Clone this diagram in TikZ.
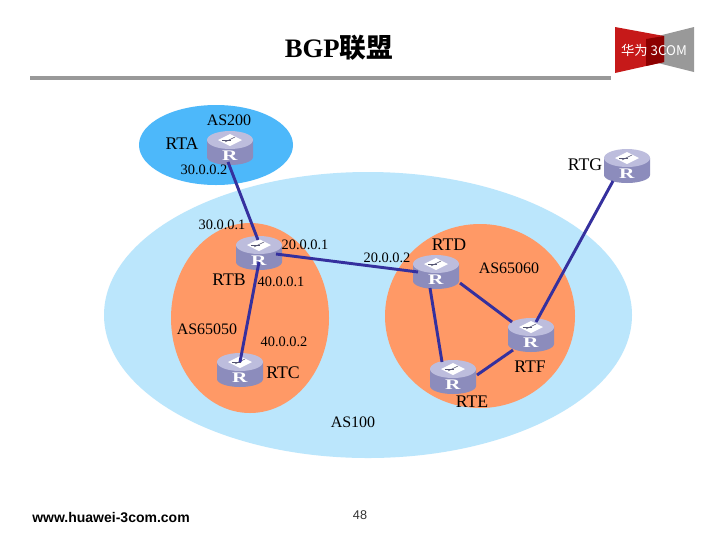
\documentclass[tikz,border=0pt]{standalone}
\usepackage{fontspec}
\setmainfont{Liberation Serif}
\setsansfont{Liberation Sans}
\newfontfamily\cjkfont{Noto Sans CJK SC}
\usetikzlibrary{calc}
\definecolor{linkblue}{HTML}{35309E}
\definecolor{routertop}{HTML}{BDBDDD}
\definecolor{routerside}{HTML}{8C8CBC}
\definecolor{skyarea}{HTML}{BBE6FC}
\definecolor{bluearea}{HTML}{4DB8FA}
\definecolor{orangearea}{HTML}{FF9966}
\newcommand{\routerR}{\raisebox{-9.5pt}[0pt][0pt]{\scalebox{1.45}[1]{\textbf{R}}}}

\begin{document}
\begin{tikzpicture}[
                x=0.75pt, y=-0.75pt,
                lbl/.style={inner sep=0pt, font=\fontsize{12}{14}\selectfont},
                rtname/.style={inner sep=0pt, font=\fontsize{13.3}{15}\selectfont},
                ipname/.style={inner sep=0pt, font=\fontsize{10.8}{13}\selectfont},
                router/.style={rectangle, inner sep=0pt, minimum width=34.5pt, minimum height=25.5pt,
                                text=white, font=\fontsize{11}{13}\selectfont},
                routericon/.pic={
                    \fill[routerside] (-23,-8) -- (-23,9) arc[start angle=180, end angle=0, x radius=23, y radius=8] -- (23,-8) -- cycle;
                    \fill[routertop] (0,-8) ellipse[x radius=23, y radius=9];
                    \fill[white] (-12,-8) -- (0,-14) -- (12,-8) -- (0,-2) -- cycle;
                    \draw[routerside!60!black, thin] (-5,-6) -- (5,-11);
                    \draw[routerside!60!black, thin] (-8,-8) -- (1,-8);
                },
                link/.style={line width=2.2pt, draw=linkblue}
            ]
                \useasboundingbox (0,0) rectangle (720,540);
                \fill[white] (0,0) rectangle (720,540);

                \fill[skyarea] (368,315) ellipse[x radius=264, y radius=143];
                \fill[bluearea] (216,145) ellipse[x radius=77, y radius=40];
                \fill[orangearea] (250,318) ellipse[x radius=79, y radius=95];
                \fill[orangearea] (480,316) ellipse[x radius=95, y radius=92];

                \fill[black!40] (30,76) rectangle (611,80);
                \node[inner sep=0pt, font=\fontsize{20}{24}\selectfont\bfseries] (title) at (339,48) {BGP{\cjkfont 联盟}};

                \fill[black!40] (694,27) -- (694,72) -- (646,60) -- (646,39) -- cycle;
                \fill[red!75!black!90!white] (615,27) -- (664,36) -- (664,62) -- (615,73) -- cycle;
                \fill[red!55!black] (646,39) -- (664,36) -- (664,62) -- (646,66) -- cycle;
                \node[inner sep=0pt, text=white, font=\cjkfont\fontsize{10}{12}\selectfont] (logo) at (654,50) {华为 3COM};

                \foreach \r/\x/\y in {rta/230/148, rtb/259/253, rtc/240/370, rtd/436/272, rte/453/377, rtf/531/335, rtg/627/166} {
                    \pic at (\x,\y) {routericon};
                    \node[router] (\r) at (\x,\y) {\routerR};
                }

                \draw[link] ($(rta)+(-2,14)$) -- ($(rtb)+(-1,-13)$);
                \draw[link] ($(rtb)+(17,1)$)  -- ($(rtd)+(-18,0)$);
                \draw[link] ($(rtb)+(0,9)$)   -- ($(rtc)+(0,-8)$);
                \draw[link] ($(rtd)+(-6,16)$) -- ($(rte)+(-11,-15)$);
                \draw[link] ($(rtd)+(24,11)$) -- ($(rtf)+(-19,-13)$);
                \draw[link] ($(rte)+(24,-2)$) -- ($(rtf)+(-18,15)$);
                \draw[link] ($(rtf)+(5,-13)$) -- ($(rtg)+(-14,15)$);

                \node[lbl] (as200) at (229,120) {AS200};
                \node[rtname] (lrta)  at (182,144) {RTA};
                \node[ipname] (ip1)   at (204,170) {30.0.0.2};
                \node[rtname] (lrtg)  at (585,165) {RTG};
                \node[ipname] (ip2)   at (222,225) {30.0.0.1};
                \node[ipname] (ip3)   at (305,245) {20.0.0.1};
                \node[ipname] (ip4)   at (387,258) {20.0.0.2};
                \node[rtname] (lrtd)  at (449,245) {RTD};
                \node[lbl] (as2)   at (509,268) {AS65060};
                \node[rtname] (lrtb)  at (229,280) {RTB};
                \node[ipname] (ip5)   at (281,282) {40.0.0.1};
                \node[lbl] (as1)   at (207,329) {AS65050};
                \node[ipname] (ip6)   at (284,342) {40.0.0.2};
                \node[rtname] (lrtc)  at (283,373) {RTC};
                \node[rtname] (lrtf)  at (530,367) {RTF};
                \node[rtname] (lrte)  at (472,402) {RTE};
                \node[lbl] (as100) at (353,422) {AS100};

                \node[inner sep=0pt, font=\sffamily\bfseries\fontsize{10.5}{12}\selectfont] (url) at (111,517) {www.huawei-3com.com};
                \node[inner sep=0pt, text=black!80, font=\sffamily\fontsize{9.5}{12}\selectfont] (page) at (360,515) {48};
            \end{tikzpicture}
\end{document}
